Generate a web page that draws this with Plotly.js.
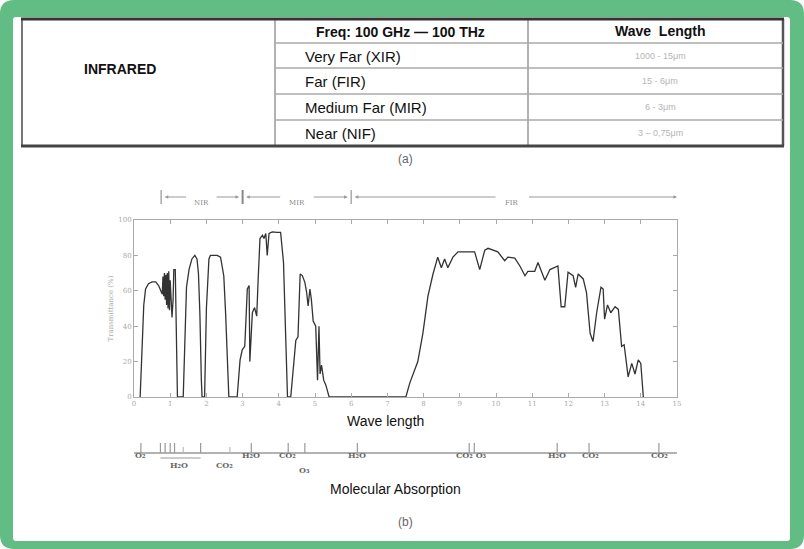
<!DOCTYPE html>
<html><head><meta charset="utf-8">
<script src="https://cdn.plot.ly/plotly-3.0.1.min.js"></script>
<style>html,body{margin:0;padding:0;background:#fff}#chart{width:804px;height:549px}</style>
</head><body><div id="chart"></div>
<script>
// ---- data ----
const wavelength = [
 0.17,0.22,0.27,0.32,0.40,0.50,0.60,0.68,0.74,0.78,0.80,0.82,0.84,0.86,0.88,0.90,0.92,0.94,0.96,0.98,1.00,1.03,1.05,1.08,1.10,1.14,1.17,1.20,
 1.36,1.41,1.45,1.52,1.60,1.68,1.74,1.78,1.82,1.86,1.88,
 1.95,1.98,2.00,2.03,2.07,2.11,2.20,2.30,2.39,2.44,2.48,2.53,2.58,2.62,
 2.85,2.93,2.99,3.06,3.13,3.18,3.20,3.27,3.33,3.39,3.43,3.48,3.55,3.59,3.64,3.68,3.73,3.82,3.95,4.05,4.13,4.19,4.24,
 4.33,4.40,4.47,4.53,4.59,4.65,4.72,4.77,4.81,4.86,4.90,4.95,5.02,5.07,5.11,5.14,5.18,5.24,5.30,5.39,
 7.51,7.62,7.75,7.84,7.98,8.12,8.26,8.39,8.49,8.58,8.67,8.81,8.95,9.10,9.22,9.41,9.55,9.69,9.78,9.90,10.05,10.24,10.33,10.52,10.66,10.80,10.88,11.07,11.16,11.35,11.49,11.71,11.80,11.90,11.99,12.13,12.20,12.27,12.41,12.50,12.60,12.68,12.78,12.90,12.96,13.00,13.08,13.17,13.29,13.38,13.47,13.54,13.58,13.65,13.75,13.84,13.93,14.00,14.07
];
const transmittance = [
 0,30,52,61,64,65,65,63,60,58,68,57,70,55,69,52,70,50,71,49,66,48,45,55,72,72,40,0,
 0,40,62,72,78,80,78,70,47,10,0,
 0,45,50,62,78,80,80,80,79,74,68.5,47.6,20,0,
 0,21,26.7,28.6,61,63,20,47.6,50.5,45.7,66.7,89.5,91.4,89.5,92.4,80,92.4,93.3,93,93,76,32,0,
 0,17,32,34,69.5,68.6,64.8,59,51.4,61,55,42.9,40,9.5,40,13,18,9.5,6.7,0,
 0,8,15,20,36,57,69.5,79,73,78,73,79,82,82,82,82,72,83,84,83,82,77,79,78.5,74,68.5,71,71,76,66,72,74,51,51,70.5,68.5,62,69.5,66.7,59,36,31.4,47.6,62,61,44,52,47.6,51,49.5,28.6,29.5,23,11.4,19,13,21,19,0
];
const xTicks = [0,1,2,3,4,5,6,7,8,9,10,11,12,13,14,15];
const yTicks = [0,20,40,60,80,100];

const tableHeader = ["Freq: 100 GHz \u2014 100 THz", "Wave\u00a0 Length"];
const bandNames = ["Very Far (XIR)", "Far (FIR)", "Medium Far (MIR)", "Near (NIF)"];
const bandRanges = ["1000 - 15\u03bcm", "15 - 6\u03bcm", "6 - 3\u03bcm", "3 \u2013 0,75\u03bcm"];

const regionNames = ["NIR", "MIR", "FIR"];
const regionEdges = [0.75, 3.0, 6.0, 15.1];

const absorptionTicks = [0.19, 0.73, 0.86, 1.0, 1.12, 1.36, 1.84, 2.65, 3.24, 4.26, 4.72, 6.17, 9.26, 9.40, 11.69, 12.57, 14.50];
const moleculeLabels = ["O\u2082", "H\u2082O", "CO\u2082", "H\u2082O", "CO\u2082", "O\u2083", "H\u2082O", "CO\u2082 O\u2083", "H\u2082O", "CO\u2082", "CO\u2082"];
const moleculePos    = [0.19, 1.25, 2.5, 3.24, 4.25, 4.72, 6.17, 9.33, 11.69, 12.6, 14.52];
const moleculeRow    = [0, 1, 1, 0, 0, 2, 0, 0, 0, 0, 0];

// ---- pixel helpers (figure px -> paper) ----
const L = 134, R = 677, T = 220, B = 397;
const X = px => (px - L) / (R - L);
const Y = py => (B - py) / (B - T);

const shapes = [];
const ann = [];
function pline(x0, y0, x1, y1, color, w) {
  shapes.push({type:'line', xref:'paper', yref:'paper', x0:X(x0), y0:Y(y0), x1:X(x1), y1:Y(y1), line:{color:color, width:w}});
}
function ptext(x, y, text, size, color, opts) {
  ann.push(Object.assign({xref:'paper', yref:'paper', x:X(x), y:Y(y), text:text, showarrow:false,
    font:{family:'Liberation Sans, Arial, sans-serif', size:size, color:color}, xanchor:'center', yanchor:'middle'}, opts||{}));
}
function roundRect(x0, y0, x1, y1, r) {
  const p = (x,y) => X(x).toFixed(5)+','+Y(y).toFixed(5);
  return 'M'+p(x0+r,y0)+' L'+p(x1-r,y0)+' Q'+p(x1,y0)+' '+p(x1,y0+r)+' L'+p(x1,y1-r)+' Q'+p(x1,y1)+' '+p(x1-r,y1)+
         ' L'+p(x0+r,y1)+' Q'+p(x0,y1)+' '+p(x0,y1-r)+' L'+p(x0,y0+r)+' Q'+p(x0,y0)+' '+p(x0+r,y0)+' Z';
}

// green frame
shapes.push({type:'path', xref:'paper', yref:'paper', path:roundRect(0,0,804,549,14), fillcolor:'#62bd84', line:{width:0}, layer:'below'});
shapes.push({type:'path', xref:'paper', yref:'paper', path:roundRect(13,17,790,541,3), fillcolor:'#ffffff', line:{width:0}, layer:'below'});

// table
const tx0 = 22, tx1 = 783, c1 = 275, c2 = 528, ty0 = 19, ty1 = 146;
const rowLines = [43, 68, 94, 120];
pline(tx0, ty0, tx0, ty1, '#777', 2);
pline(tx1, ty0, tx1, ty1, '#555', 2.5);
pline(c1, ty0, c1, ty1, '#999', 1.5);
pline(c2, ty0, c2, ty1, '#999', 1.5);
rowLines.forEach(y => pline(c1, y, tx1, y, '#aaa', 1.5));
pline(tx0-1, ty0, tx1+1, ty0, '#333', 3);
pline(tx0-1, ty1, tx1+1, ty1, '#444', 3);
ptext(120, 69, '<b>INFRARED</b>', 14, '#111');
ptext(400, 32, '<b>'+tableHeader[0]+'</b>', 14, '#111');
ptext(660, 31, '<b>'+tableHeader[1]+'</b>', 14, '#111');
const rowCenters = [56, 81, 107, 133];
bandNames.forEach((t,i) => ptext(303, rowCenters[i], t, 15, '#111', {xanchor:'left'}));
bandRanges.forEach((t,i) => ptext(660, rowCenters[i], t, 9, '#b5b5b5'));
ptext(405, 159, '(a)', 12, '#666');

// region arrows
const ry = 197;
regionEdges.forEach((e,i) => {
  shapes.push({type:'line', xref:'x', yref:'paper', x0:e, x1:e, y0:Y(190), y1:Y(204), line:{color: i===1 ? '#888' : '#aaa', width: i===1 ? 2 : 1.5}});
});
const regionCenters = [1.86, 4.5, 10.45];
const gapHalf = [0.38, 0.42, 0.42];
regionNames.forEach((n,i) => {
  const a = regionEdges[i], b = regionEdges[i+1], c = regionCenters[i];
  ann.push({xref:'x', yref:'paper', x:c, y:Y(ry), text:n, showarrow:false, font:{family:'DejaVu Serif, serif', size:7, color:'#888'}});
  [[c-gapHalf[i], a+0.1], [c+gapHalf[i], b-0.1]].forEach(([tail, head]) => {
    ann.push({xref:'x', yref:'paper', x:head, y:Y(ry), ax:tail, axref:'x', ay:0, ayref:'pixel', text:'', showarrow:true,
      arrowhead:2, arrowsize:0.7, arrowwidth:1, arrowcolor:'#999'});
  });
});

// axis titles under plot
ptext(385, 421, 'Wave length', 14, '#111');
ptext(395, 489, 'Molecular Absorption', 14, '#111');
ptext(405, 522, '(b)', 12, '#666');

// molecular absorption scale
shapes.push({type:'line', xref:'x', yref:'paper', x0:-0.12, x1:15.1, y0:Y(453), y1:Y(453), line:{color:'#999', width:1.5}});
absorptionTicks.forEach((p,i) => {
  const short = (p === 1.36 || p === 2.65);
  shapes.push({type:'line', xref:'x', yref:'paper', x0:p, x1:p, y0:Y(453), y1:Y(short ? 447 : 443), line:{color: short ? '#bbb' : '#999', width:1.2}});
});
shapes.push({type:'line', xref:'x', yref:'paper', x0:0.73, x1:1.84, y0:Y(458), y1:Y(458), line:{color:'#999', width:1.2}});
const rowY = [462, 472, 477];
moleculeLabels.forEach((t,i) => {
  ann.push({xref:'x', yref:'paper', x:moleculePos[i], y:Y(rowY[moleculeRow[i]]), text:'<b>'+t+'</b>', showarrow:false,
    font:{family:'DejaVu Serif, serif', size:8, color:'#666'}});
});

const trace = {x: wavelength, y: transmittance, type:'scatter', mode:'lines',
  line:{color:'#333333', width:1.3}, hoverinfo:'skip', cliponaxis:false};

const axisCommon = {showgrid:false, zeroline:false, showline:true, linecolor:'#aaa', linewidth:1,
  mirror:'ticks', ticks:'inside', ticklen:4, tickcolor:'#aaa', tickfont:{family:'DejaVu Serif, serif', size:7, color:'#aaa'}};

const layout = {
  width:804, height:549,
  margin:{l:L, r:804-R, t:T, b:549-B, pad:0},
  paper_bgcolor:'#ffffff', plot_bgcolor:'rgba(0,0,0,0)',
  showlegend:false,
  xaxis:Object.assign({}, axisCommon, {range:[0,15], tickvals:xTicks, ticktext:xTicks.map(String)}),
  yaxis:Object.assign({}, axisCommon, {range:[0,100], tickvals:yTicks, ticktext:yTicks.map(String),
    title:{text:'Transmittance (%)', font:{family:'DejaVu Serif, serif', size:7, color:'#aaa'}, standoff:3}}),
  shapes:shapes, annotations:ann
};
Plotly.newPlot('chart', [trace], layout, {displayModeBar:false, staticPlot:true});
</script>
</body></html>
